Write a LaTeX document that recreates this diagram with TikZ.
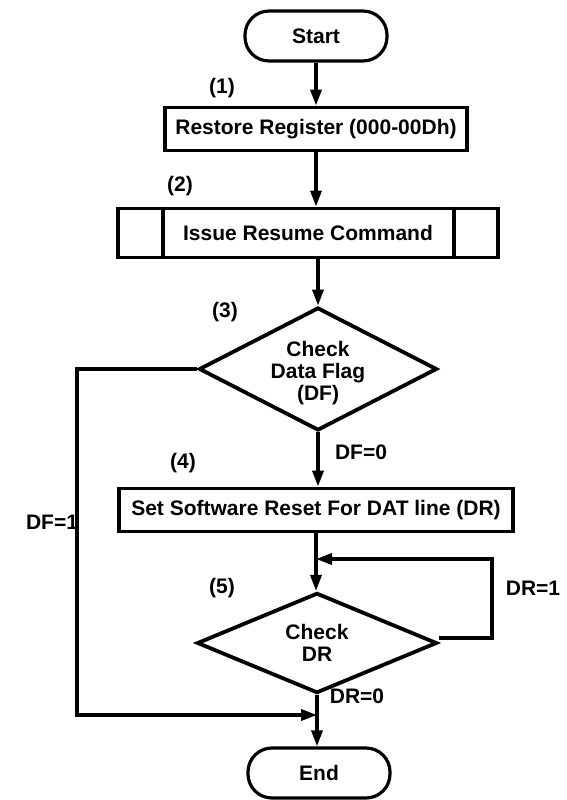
\documentclass[tikz,border=0pt]{standalone}
\usepackage{fontspec}
\setmainfont{Liberation Sans}
\usetikzlibrary{arrows.meta,shapes.geometric}

\begin{document}
\begin{tikzpicture}[x=1pt,y=-1pt,
  font=\fontsize{21}{22}\selectfont\bfseries,
  term/.style={draw,line width=3.2pt,rounded corners=24pt,minimum width=142pt,minimum height=50pt,inner sep=0pt},
  proc/.style={draw,line width=3.8pt,minimum height=43pt,inner sep=0pt},
  dec/.style={draw,diamond,line width=3.8pt,inner sep=0pt,align=center},
  arr/.style={line width=3.4pt,-{Triangle[length=16pt,width=11pt]}},
  lbl/.style={inner sep=0pt}]
  \useasboundingbox (0,0) rectangle (566,800);
  \node[term] (start) at (316,36) {Start};
  \node[proc,minimum width=302pt] (restore) at (316,129) {Restore Register (000-00Dh)};
  \node[proc,minimum width=380pt,minimum height=49pt] (issue) at (308,233) {Issue Resume Command};
  \draw[line width=3.8pt] ([xshift=47pt]issue.north west) -- ([xshift=47pt]issue.south west);
  \draw[line width=3.8pt] ([xshift=-46pt]issue.north east) -- ([xshift=-46pt]issue.south east);
  \node[dec,minimum width=238pt,minimum height=123pt] (chkdf) at (318,369) {};
  \node[lbl,align=center] (dftxt) at (318,373) {Check\\Data Flag\\(DF)};
  \node[proc,minimum width=394pt] (reset) at (316,510) {Set Software Reset For DAT line (DR)};
  \node[dec,minimum width=240pt,minimum height=91pt] (chkdr) at (317,643) {Check\\DR};
  \node[term] (end) at (319,773) {End};

  \node[lbl] at (222,88) {(1)};
  \node[lbl] at (180,186) {(2)};
  \node[lbl] at (225,312) {(3)};
  \node[lbl] at (183,463) {(4)};
  \node[lbl] at (222,588) {(5)};
  \node[lbl] at (361,452) {DF=0};
  \node[lbl] at (52,522) {DF=1};
  \node[lbl] at (533,588) {DR=1};
  \node[lbl] at (357,696) {DR=0};

  \coordinate (loopin) at (316,559);
  \coordinate (loopr) at (492,638);
  \coordinate (leftdn) at (77,715);
  \coordinate (merge) at (317,715);

  \draw[arr] (start) -- (restore);
  \draw[arr] (restore.south) -- (restore.south |- issue.north);
  \draw[arr] (issue.south -| chkdf.north) -- (chkdf.north);
  \draw[arr] (chkdf.south) -- (reset.north -| chkdf.south);
  \draw[arr] (reset.south) -- (reset.south |- chkdr.north);
  \draw[arr] (chkdr.east |- loopr) -- (loopr) |- (loopin);
  \draw[arr] (chkdf.west) -| (leftdn) -- (merge);
  \draw[line width=3.4pt] (chkdr.south) -- (merge);
  \draw[arr] (merge) -- (end.north -| merge);
\end{tikzpicture}
\end{document}
